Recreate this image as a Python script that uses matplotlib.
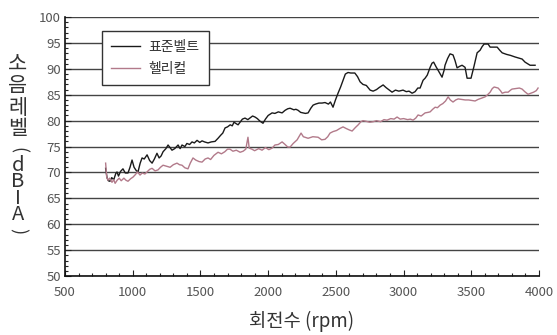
import matplotlib.pyplot as plt
from matplotlib.ticker import MultipleLocator

plt.rcParams['font.family'] = ['Noto Sans CJK KR', 'DejaVu Sans']

# 표준벨트 (standard belt): rpm, dB
std_rpm = [800, 810, 820, 832, 845, 860, 875, 884, 895, 910, 928, 945, 965, 980, 995,
           1010, 1025, 1039, 1055, 1069, 1085, 1106, 1125, 1143, 1160, 1179, 1195, 1210,
           1224, 1245, 1261, 1275, 1290, 1310, 1335, 1350, 1364, 1385, 1400, 1420, 1438,
           1455, 1475, 1495, 1512, 1530, 1556, 1580, 1608, 1630, 1650, 1665, 1682, 1700,
           1720, 1735, 1748, 1765, 1778, 1795, 1810, 1829, 1850, 1870, 1885, 1903, 1920,
           1940, 1962, 1980, 2000, 2029, 2050, 2075, 2103, 2125, 2145, 2162, 2190, 2205,
           2221, 2240, 2258, 2275, 2295, 2315, 2332, 2350, 2375, 2398, 2420, 2445, 2460,
           2479, 2497, 2516, 2535, 2553, 2570, 2590, 2610, 2640, 2660, 2679, 2700, 2725,
           2753, 2775, 2800, 2820, 2849, 2870, 2895, 2915, 2940, 2965, 2996, 3020, 3040,
           3063, 3085, 3105, 3122, 3144, 3159, 3175, 3196, 3210, 3222, 3240, 3260, 3284,
           3300, 3306, 3325, 3343, 3365, 3380, 3395, 3415, 3432, 3454, 3469, 3498, 3520,
           3543, 3565, 3580, 3595, 3624, 3639, 3660, 3691, 3710, 3728, 3760, 3790, 3823,
           3850, 3875, 3897, 3915, 3934, 3971]
std_db = [70.8, 69.0, 68.4, 68.3, 69.0, 68.6, 69.8, 70.1, 69.3, 70.2, 70.7, 69.9, 69.9, 71.0, 72.4,
          71.0, 70.4, 70.1, 71.8, 72.8, 72.6, 73.4, 72.3, 71.8, 72.6, 73.7, 72.8, 73.2,
          74.0, 74.6, 75.3, 74.8, 74.3, 74.6, 75.3, 74.6, 75.3, 75.0, 75.6, 75.4, 75.9,
          75.7, 76.2, 75.8, 76.1, 75.9, 75.7, 75.9, 76.0, 76.6, 77.2, 77.6, 78.6, 78.8,
          79.2, 79.0, 79.7, 79.4, 79.2, 79.8, 80.3, 80.5, 80.2, 80.6, 80.9, 80.7, 80.4,
          79.9, 79.5, 80.3, 81.0, 81.5, 81.4, 81.7, 81.5, 82.0, 82.3, 82.4, 82.1, 82.2,
          82.0, 81.6, 81.5, 81.4, 81.5, 82.4, 83.0, 83.2, 83.4, 83.4, 83.5, 83.2, 83.6,
          82.6, 84.0, 85.3, 86.5, 87.8, 89.0, 89.3, 89.2, 89.2, 88.5, 87.5, 87.0, 86.8,
          85.9, 85.7, 86.0, 86.4, 86.9, 86.4, 85.9, 85.5, 85.9, 85.7, 85.9, 85.6, 85.7,
          85.3, 85.6, 86.3, 86.3, 87.8, 88.2, 88.8, 90.3, 91.1, 91.3, 90.4, 89.5, 88.4,
          89.8, 90.7, 92.0, 92.9, 92.7, 91.6, 90.2, 90.5, 90.7, 90.3, 88.2, 88.2, 90.5,
          93.1, 93.6, 94.3, 94.8, 94.8, 94.2, 94.2, 94.2, 93.6, 93.1, 92.8, 92.6, 92.3,
          92.1, 91.9, 91.3, 91.0, 90.7, 90.7]

# 헬리컬 (helical): rpm, dB
hel_rpm = [800, 808, 818, 830, 847, 860, 870, 885, 900, 915, 935, 950, 965, 985, 1002,
           1020, 1035, 1054, 1070, 1090, 1106, 1125, 1143, 1165, 1187, 1205, 1224, 1250,
           1276, 1300, 1327, 1345, 1364, 1385, 1408, 1425, 1445, 1465, 1490, 1512, 1535,
           1556, 1575, 1600, 1630, 1655, 1680, 1700, 1718, 1740, 1765, 1793, 1815, 1835,
           1851, 1860, 1880, 1900, 1930, 1955, 1980, 2005, 2029, 2050, 2075, 2103, 2125,
           2145, 2162, 2185, 2214, 2243, 2260, 2295, 2330, 2369, 2395, 2420, 2440, 2457,
           2480, 2505, 2530, 2553, 2575, 2600, 2620, 2645, 2665, 2685, 2700, 2720, 2750,
           2775, 2800, 2830, 2855, 2878, 2905, 2930, 2952, 2975, 3000, 3030, 3050, 3070,
           3090, 3107, 3130, 3159, 3180, 3196, 3215, 3233, 3250, 3270, 3290, 3310, 3329,
           3345, 3365, 3385, 3403, 3430, 3455, 3480, 3505, 3528, 3550, 3580, 3602, 3620,
           3639, 3655, 3669, 3685, 3698, 3715, 3728, 3750, 3772, 3790, 3801, 3830, 3855,
           3875, 3895, 3919, 3940, 3960, 3980, 3993]
hel_db = [71.8, 69.1, 68.5, 68.9, 68.1, 68.6, 67.9, 68.5, 68.9, 68.4, 68.9, 68.5, 68.3, 68.8, 69.1,
          69.6, 70.1, 69.5, 69.9, 69.7, 70.1, 70.6, 70.8, 70.3, 70.5, 71.0, 71.4, 71.2,
          71.0, 71.5, 71.8, 71.5, 71.4, 70.9, 70.7, 71.8, 72.8, 72.4, 72.1, 72.0, 72.6,
          72.8, 72.5, 73.3, 73.9, 73.6, 74.0, 74.5, 74.5, 74.1, 74.3, 73.9, 74.1, 74.5,
          76.8, 74.7, 74.5, 74.2, 74.6, 74.3, 74.8, 74.4, 74.7, 75.3, 75.4, 75.9, 75.4,
          74.9, 74.9, 75.6, 76.3, 77.6, 76.9, 76.6, 76.9, 76.8, 76.3, 76.4, 76.9, 77.6,
          77.9, 78.1, 78.5, 78.8, 78.5, 78.2, 78.0, 78.7, 79.2, 79.8, 80.0, 79.9, 79.7,
          79.8, 80.0, 79.8, 80.2, 80.1, 80.4, 80.3, 80.7, 80.3, 80.4, 80.2, 80.3, 80.1,
          80.5, 81.1, 80.9, 81.5, 81.6, 81.7, 82.2, 82.6, 82.5, 83.0, 83.3, 83.8, 84.6,
          84.0, 83.6, 84.0, 84.2, 84.1, 84.0, 84.0, 83.9, 83.8, 84.1, 84.4, 84.6, 85.0,
          85.5, 86.2, 86.5, 86.4, 86.3, 85.8, 85.3, 85.5, 85.5, 85.9, 86.1, 86.2, 86.3,
          86.1, 85.6, 85.1, 85.3, 85.5, 85.8, 86.3]

series_labels = ['표준벨트', '헬리컬']
x_ticks = [500, 1000, 1500, 2000, 2500, 3000, 3500, 4000]
y_ticks = [50, 55, 60, 65, 70, 75, 80, 85, 90, 95, 100]

fig = plt.figure(figsize=(5.57, 3.35), dpi=100)
ax = fig.add_axes([0.1167, 0.176, 0.851, 0.773])

ax.plot(std_rpm, std_db, color='#1a1a1a', lw=1.0, label=series_labels[0], zorder=3)
ax.plot(hel_rpm, hel_db, color='#b27a8a', lw=1.0, label=series_labels[1], zorder=3)

ax.set_xlim(500, 4000)
ax.set_ylim(50, 100)
ax.set_xticks(x_ticks)
ax.set_yticks(y_ticks)
ax.xaxis.set_minor_locator(MultipleLocator(100))
ax.yaxis.set_minor_locator(MultipleLocator(1))
ax.tick_params(which='both', direction='in', colors='#222222', labelcolor='#555555',
               labelsize=9.5, width=0.8)
ax.tick_params(which='major', length=4)
ax.tick_params(which='minor', length=2.5)
ax.tick_params(axis='x', pad=7)
ax.tick_params(axis='y', pad=3)

ax.grid(axis='y', which='major', color='#444444', lw=1.0, zorder=1)
ax.set_axisbelow(True)
for s in ['top', 'right']:
    ax.spines[s].set_visible(False)
for s in ['left', 'bottom']:
    ax.spines[s].set_linewidth(1.2)
    ax.spines[s].set_color('#111111')

leg = ax.legend(loc='upper left', bbox_to_anchor=(0.078, 0.946), fancybox=False,
                edgecolor='#333333', framealpha=1, fontsize=10, handlelength=2.1,
                borderpad=0.65, labelspacing=0.55, handletextpad=0.6, borderaxespad=0)
leg.get_frame().set_linewidth(1.0)
for t in leg.get_texts():
    t.set_color('#333333')

ax.set_xlabel('회전수 (rpm)', fontsize=13.5, color='#333333', labelpad=9)

# vertical stacked y label: 소음레벨(dB-A)
lx = 18 / 557
fig.text(lx, 1 - 97 / 335, '소\n음\n레\n벨', ha='center', va='center',
         fontsize=15, color='#333333', linespacing=0.97)
fig.text(lx, 1 - 150 / 335, '(', ha='center', va='center', rotation=-90,
         fontsize=13, color='#333333')
fig.text(lx, 1 - 190 / 335, 'd\nB\nI\nA', ha='center', va='center',
         fontsize=14.5, color='#333333', linespacing=0.72)
fig.text(lx, 1 - 231 / 335, ')', ha='center', va='center', rotation=-90,
         fontsize=13, color='#333333')

fig.savefig('out.png', dpi=100)
